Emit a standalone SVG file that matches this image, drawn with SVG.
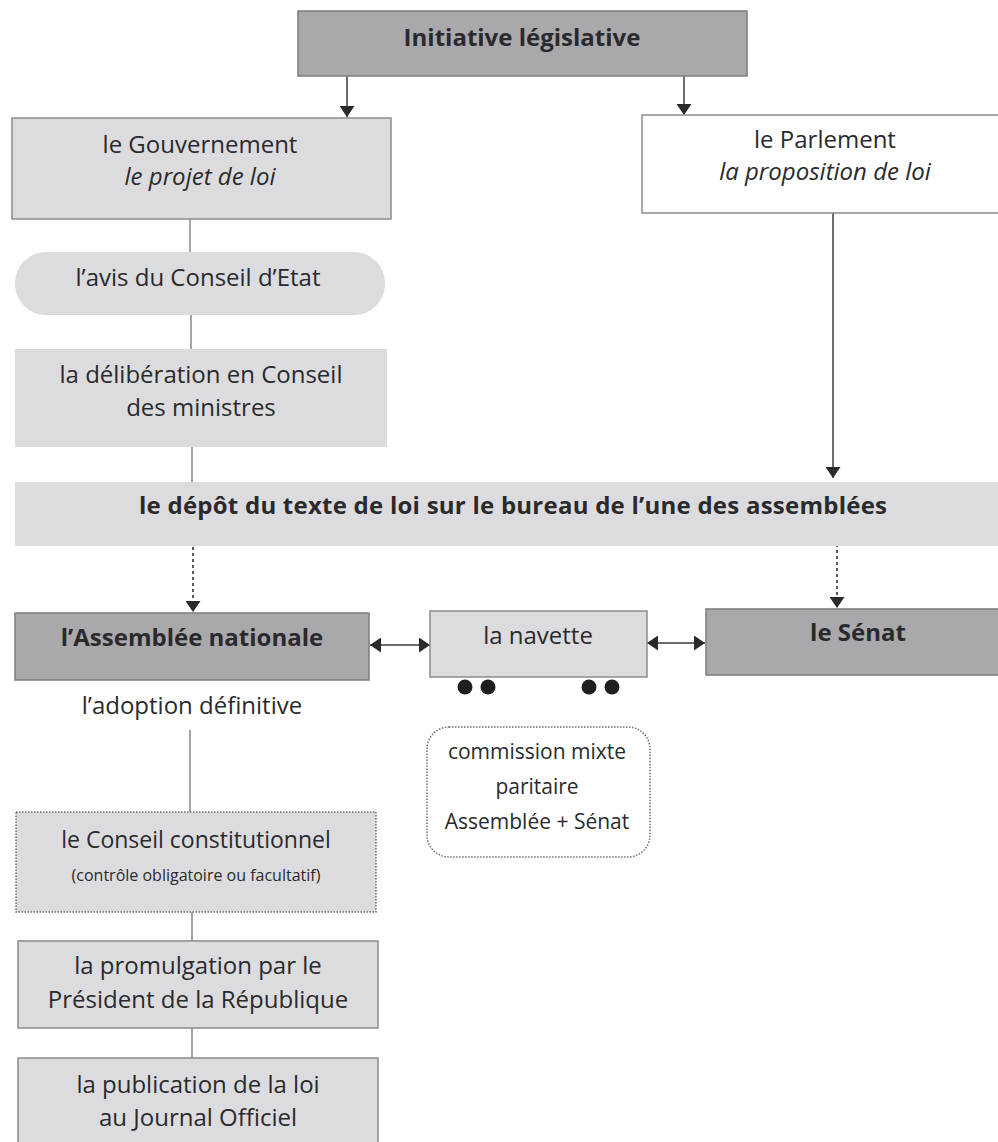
<svg xmlns="http://www.w3.org/2000/svg" width="998" height="1142" viewBox="0 0 998 1142">
<style>
text{font-family:"Open Sans","Noto Sans","DejaVu Sans",sans-serif;fill:#2a2a2c;text-anchor:middle;font-size:24px}
.b{font-weight:bold}
.i{font-style:italic}
.lt{fill:#dcdcdf;stroke:#8c8c8e;stroke-width:1.5}
.ltn{fill:#dcdcdf}
.dk{fill:#a9a9ac;stroke:#7c7c7e;stroke-width:1.5}
.wh{fill:#ffffff;stroke:#8c8c8e;stroke-width:1.5}
.dot{fill:#dcdcdf;stroke:#6e6e70;stroke-width:1.5;stroke-dasharray:1.5 1.5}
.ln{stroke:#8a8a8c;stroke-width:1.5;fill:none}
.ar{stroke:#3a3a3c;stroke-width:1.5;fill:none}
.da{stroke:#5a5a5c;stroke-width:2;fill:none;stroke-dasharray:3 3}
</style>
<defs>
<marker id="ah" viewBox="0 0 11 15" refX="11" refY="7.5" markerWidth="11" markerHeight="15" markerUnits="userSpaceOnUse" orient="auto-start-reverse">
<path d="M0,0 L11,7.5 L0,15 z" fill="#2a2a2c"/>
</marker>
</defs>
<g id="connectors">
<line class="ar" x1="347" y1="76" x2="347" y2="117" marker-end="url(#ah)"/>
<line class="ar" x1="684" y1="76" x2="684" y2="115" marker-end="url(#ah)"/>
<line class="ln" x1="190" y1="219" x2="190" y2="252"/>
<line class="ln" x1="191" y1="315" x2="191" y2="349"/>
<line class="ln" x1="192" y1="447" x2="192" y2="484"/>
<line class="ar" x1="833" y1="213" x2="833" y2="478" marker-end="url(#ah)"/>
<line class="da" x1="193" y1="547" x2="193" y2="612" marker-end="url(#ah)"/>
<line class="da" x1="837" y1="544" x2="837" y2="608" marker-end="url(#ah)"/>
<line class="ar" x1="370" y1="645" x2="430" y2="645" marker-start="url(#ah)" marker-end="url(#ah)"/>
<line class="ar" x1="647" y1="643" x2="705" y2="643" marker-start="url(#ah)" marker-end="url(#ah)"/>
<line class="ln" x1="190" y1="730" x2="190" y2="812"/>
<line class="ln" x1="192" y1="912" x2="192" y2="941"/>
<line class="ln" x1="192" y1="1028" x2="192" y2="1058"/>
</g>
<g id="initiative">
<rect class="dk" x="298" y="11" width="449" height="65"/>
<text class="b" x="522" y="46">Initiative législative</text>
</g>
<g id="gouvernement">
<rect class="lt" x="12" y="118" width="379" height="101"/>
<text x="200" y="153">le Gouvernement</text>
<text class="i" x="200" y="185">le projet de loi</text>
</g>
<g id="parlement">
<rect class="wh" x="642" y="115" width="360" height="98"/>
<text x="825" y="148">le Parlement</text>
<text class="i" x="825" y="180">la proposition de loi</text>
</g>
<g id="avis">
<rect class="ltn" x="15" y="252" width="370" height="63" rx="31"/>
<text x="198" y="286">l’avis du Conseil d’Etat</text>
</g>
<g id="deliberation">
<rect class="ltn" x="15" y="349" width="372" height="98"/>
<text x="201" y="383">la délibération en Conseil</text>
<text x="201" y="416">des ministres</text>
</g>
<g id="depot">
<rect class="ltn" x="15" y="482" width="990" height="64"/>
<text class="b" x="513" y="514" textLength="748" lengthAdjust="spacing">le dépôt du texte de loi sur le bureau de l’une des assemblées</text>
</g>
<g id="assemblee">
<rect class="dk" x="15" y="613" width="354" height="67"/>
<text class="b" x="192" y="646">l’Assemblée nationale</text>
<text x="192" y="714">l’adoption définitive</text>
</g>
<g id="navette">
<rect class="lt" x="430" y="611" width="217" height="66"/>
<text x="538" y="644">la navette</text>
<circle cx="465" cy="687" r="7.5" fill="#1e1e20"/>
<circle cx="488" cy="687" r="7.5" fill="#1e1e20"/>
<circle cx="589" cy="687" r="7.5" fill="#1e1e20"/>
<circle cx="612" cy="687" r="7.5" fill="#1e1e20"/>
</g>
<g id="senat">
<rect class="dk" x="706" y="609" width="296" height="66"/>
<text class="b" x="858" y="641">le Sénat</text>
</g>
<g id="commission">
<rect x="427" y="727" width="223" height="130" rx="22" fill="#ffffff" stroke="#6e6e70" stroke-width="1.5" stroke-dasharray="1.5 1.5"/>
<text x="537" y="759" style="font-size:21px">commission mixte</text>
<text x="537" y="794" style="font-size:21px">paritaire</text>
<text x="537" y="829" style="font-size:21px">Assemblée + Sénat</text>
</g>
<g id="conseil-constitutionnel">
<rect class="dot" x="16" y="812" width="360" height="100"/>
<text x="196" y="848" style="font-size:23px">le Conseil constitutionnel</text>
<text x="196" y="881" style="font-size:16px">(contrôle obligatoire ou facultatif)</text>
</g>
<g id="promulgation">
<rect class="lt" x="18" y="941" width="360" height="87"/>
<text x="198" y="974">la promulgation par le</text>
<text x="198" y="1008">Président de la République</text>
</g>
<g id="publication">
<rect class="lt" x="18" y="1058" width="360" height="95"/>
<text x="198" y="1093">la publication de la loi</text>
<text x="198" y="1126">au Journal Officiel</text>
</g>
</svg>
